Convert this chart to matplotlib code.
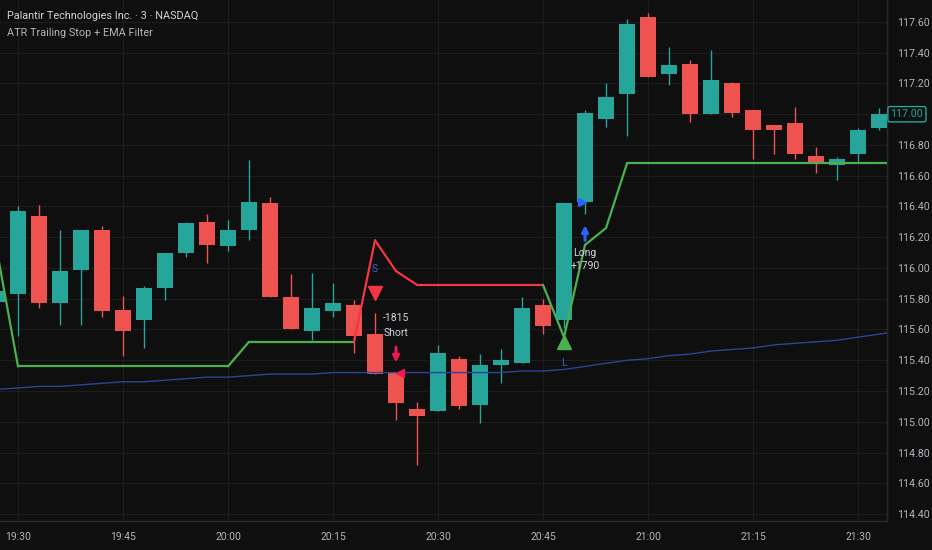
import matplotlib
matplotlib.use("Agg")
import matplotlib.pyplot as plt
from matplotlib.transforms import offset_copy, blended_transform_factory
import numpy as np
import pandas as pd

# PLTR 3-minute bars, 19:27 .. 21:33
times = pd.date_range("2024-01-01 19:27", periods=43, freq="3min").strftime("%H:%M").tolist()

opens = [115.78, 115.83, 116.34, 115.77, 115.99, 116.25, 115.73, 115.66, 115.87, 116.10,
         116.30, 116.14, 116.25, 116.42, 115.81, 115.59, 115.72, 115.76, 115.57, 115.32,
         115.08, 115.07, 115.41, 115.11, 115.37, 115.38, 115.76, 115.66, 116.43, 116.97,
         117.13, 117.63, 117.26, 117.33, 117.00, 117.20, 117.03, 116.93, 116.94, 116.73,
         116.67, 116.74, 116.91]
highs = [115.87, 116.40, 116.41, 116.25, 116.25, 116.27, 115.82, 115.88, 116.10, 116.30,
         116.35, 116.31, 116.70, 116.46, 115.96, 115.97, 115.90, 115.79, 115.71, 115.32,
         115.13, 115.50, 115.43, 115.44, 115.47, 115.81, 115.80, 116.42, 117.03, 117.20,
         117.62, 117.66, 117.44, 117.35, 117.42, 117.21, 117.03, 116.93, 117.05, 116.79,
         116.72, 116.91, 117.04]
lows = [115.75, 115.56, 115.74, 115.63, 115.63, 115.68, 115.43, 115.48, 115.79, 116.07,
        116.03, 116.11, 116.18, 115.81, 115.60, 115.53, 115.68, 115.45, 115.31, 115.01,
        114.72, 115.07, 115.08, 114.99, 115.25, 115.38, 115.57, 115.61, 116.35, 116.92,
        116.86, 117.24, 117.19, 116.95, 117.00, 116.98, 116.71, 116.74, 116.71, 116.62,
        116.57, 116.69, 116.90]
closes = [115.85, 116.37, 115.77, 115.98, 116.25, 115.72, 115.59, 115.87, 116.10, 116.29,
          116.15, 116.25, 116.43, 115.81, 115.60, 115.74, 115.77, 115.56, 115.31, 115.12,
          115.04, 115.45, 115.10, 115.37, 115.40, 115.74, 115.62, 116.42, 117.01, 117.11,
          117.59, 117.24, 117.32, 117.00, 117.22, 117.01, 116.90, 116.90, 116.74, 116.68,
          116.71, 116.90, 117.00]

# ATR trailing stop and its direction (1 long, -1 short)
trail = [116.11, 115.36, 115.36, 115.36, 115.36, 115.36, 115.36, 115.36, 115.36, 115.36,
         115.36, 115.36, 115.52, 115.52, 115.52, 115.52, 115.52, 115.52, 116.18, 115.98,
         115.89, 115.89, 115.89, 115.89, 115.89, 115.89, 115.89, 115.55, 116.15, 116.26,
         116.68, 116.68, 116.68, 116.68, 116.68, 116.68, 116.68, 116.68, 116.68, 116.68,
         116.68, 116.68, 116.68]
trail_dir = [1] * 18 + [-1] * 9 + [1] * 16

ema = [115.21, 115.22, 115.23, 115.23, 115.24, 115.25, 115.26, 115.26, 115.27, 115.28,
       115.29, 115.29, 115.30, 115.31, 115.31, 115.31, 115.32, 115.32, 115.32, 115.32,
       115.32, 115.32, 115.32, 115.32, 115.32, 115.33, 115.33, 115.34, 115.36, 115.38,
       115.40, 115.41, 115.43, 115.44, 115.46, 115.47, 115.48, 115.50, 115.51, 115.52,
       115.53, 115.55, 115.57]

# signals: bar of flip, bar of entry, trade result
short_flip, short_entry, short_pnl = "20:21", "20:24", "-1815"
long_flip, long_entry, long_pnl = "20:48", "20:51", "+1790"

BG = "#0f0f0f"
GRID = "#1d1d1d"
UP = "#26a69a"
DOWN = "#ef5350"
TXT = "#b2b5be"
SIG = "#3a62dc"

plt.rcParams["font.family"] = ["Roboto", "DejaVu Sans"]

fig = plt.figure(figsize=(9.32, 5.5), dpi=100)
fig.patch.set_facecolor(BG)
ax = fig.add_axes([0, 1 - 521 / 550, 887 / 932, 521 / 550])
ax.set_facecolor(BG)

x = np.arange(len(times)) - 1  # bar index, 0 = 19:30
o = np.array(opens); h = np.array(highs); l = np.array(lows); c = np.array(closes)
col = np.where(c >= o, UP, DOWN)

# candles
ax.vlines(x, l, h, colors=col, lw=1, zorder=3)
body = np.maximum(np.abs(c - o), 0.006)
ax.bar(x, body, bottom=np.minimum(o, c), width=0.76, color=col, zorder=3, linewidth=0)

xmax = 41.38
# EMA
ax.plot(list(x) + [xmax], ema + [ema[-1] + (ema[-1] - ema[-2]) * (xmax - x[-1])],
        color="#2b4596", lw=1, zorder=4)

# trailing stop, each segment coloured by the bar it ends on
for i in range(1, len(trail)):
    cc = "#4caf50" if trail_dir[i] > 0 else "#f23645"
    ax.plot(x[i - 1:i + 1], trail[i - 1:i + 1], color=cc, lw=1.6, zorder=5,
            solid_capstyle="round")
ax.plot([x[-1], xmax], [trail[-1], trail[-1]], color="#4caf50", lw=1.6, zorder=5)

def px(dx=0, dy=0):
    return offset_copy(ax.transData, fig=fig, x=dx, y=dy, units="dots")

ks = times.index(short_flip)
ke = times.index(short_entry)
kl = times.index(long_flip)
kle = times.index(long_entry)

# short flip marker
ax.plot(x[ks], highs[ks], marker="v", ms=9.5, color="#f23645", transform=px(0, 19.5), zorder=6)
ax.text(x[ks], highs[ks], "S", color=SIG, fontsize=7.5, ha="center", va="center",
        transform=px(0, 44), zorder=6)
# long flip marker
ax.plot(x[kl], lows[kl], marker="^", ms=9.5, color="#4caf50", transform=px(0, -14.5), zorder=6)
ax.text(x[kl], lows[kl], "L", color=SIG, fontsize=7.5, ha="center", va="center",
        transform=px(0, -35), zorder=6)

# short entry
ax.plot(x[ke], opens[ke], marker="<", ms=6, color="#f0184f", transform=px(4, 0), zorder=7)
ax.annotate("", xy=(x[ke], highs[ke]), xycoords=px(0, 10),
            xytext=(0, 11), textcoords="offset points",
            arrowprops=dict(arrowstyle="-|>", color="#f0184f", lw=2.2, mutation_scale=9,
                            shrinkA=0, shrinkB=0), zorder=7)
ax.text(x[ke], highs[ke], "Short", color="#d1d4dc", fontsize=7.5, ha="center", va="center",
        transform=px(0, 40), zorder=7)
ax.text(x[ke], highs[ke], short_pnl, color="#d1d4dc", fontsize=7.5, ha="center", va="center",
        transform=px(0, 54.5), zorder=7)

# long entry
ax.plot(x[kle], opens[kle], marker=">", ms=6, color="#2962ff", transform=px(-3.5, 0), zorder=7)
ax.annotate("", xy=(x[kle], lows[kle]), xycoords=px(0, -11),
            xytext=(0, -11), textcoords="offset points",
            arrowprops=dict(arrowstyle="-|>", color="#2962ff", lw=2.2, mutation_scale=9,
                            shrinkA=0, shrinkB=0), zorder=7)
ax.text(x[kle], lows[kle], "Long", color="#d1d4dc", fontsize=7.5, ha="center", va="center",
        transform=px(0, -38.7), zorder=7)
ax.text(x[kle], lows[kle], long_pnl, color="#d1d4dc", fontsize=7.5, ha="center", va="center",
        transform=px(0, -51.7), zorder=7)

# axes
ax.set_xlim(-0.857, xmax)
ax.set_ylim(114.3545, 117.743)
xt = [i for i, t in enumerate(times) if t.endswith(("00", "15", "30", "45"))]
ax.set_xticks(x[xt])
ax.set_xticklabels([times[i] for i in xt])
yt = np.arange(114.4, 117.61, 0.2)
ax.set_yticks(yt)
# the 117.00 level is covered by the last-price tag
ax.set_yticklabels(["" if abs(v - closes[-1]) < 0.05 else f"{v:.2f}" for v in yt])
ax.yaxis.tick_right()
ax.tick_params(axis="y", length=0, pad=7, labelsize=7.7, colors=TXT)
ax.tick_params(axis="x", length=0, pad=8, labelsize=7.5, colors=TXT)
ax.grid(True, color=GRID, lw=0.8, zorder=0)
ax.set_axisbelow(True)
for s in ["top", "left"]:
    ax.spines[s].set_visible(False)
for s in ["right", "bottom"]:
    ax.spines[s].set_color("#2a2a2a")
    ax.spines[s].set_linewidth(1)

# last price tag
ax.text(1.004, closes[-1], f"{closes[-1]:.2f}", color=UP, fontsize=7.7, ha="left", va="center",
        transform=blended_transform_factory(ax.transAxes, ax.transData), clip_on=False,
        zorder=10,
        bbox=dict(boxstyle="round,pad=0.25,rounding_size=0.2", fc=BG, ec=UP, lw=1))

fig.text(7 / 932, 1 - 16 / 550, "Palantir Technologies Inc. · 3 · NASDAQ", color="#d1d4dc",
         fontsize=7.8, ha="left", va="center")
fig.text(7 / 932, 1 - 33 / 550, "ATR Trailing Stop + EMA Filter", color=TXT,
         fontsize=7.8, ha="left", va="center")

fig.savefig("out.png", dpi=100, facecolor=BG)
